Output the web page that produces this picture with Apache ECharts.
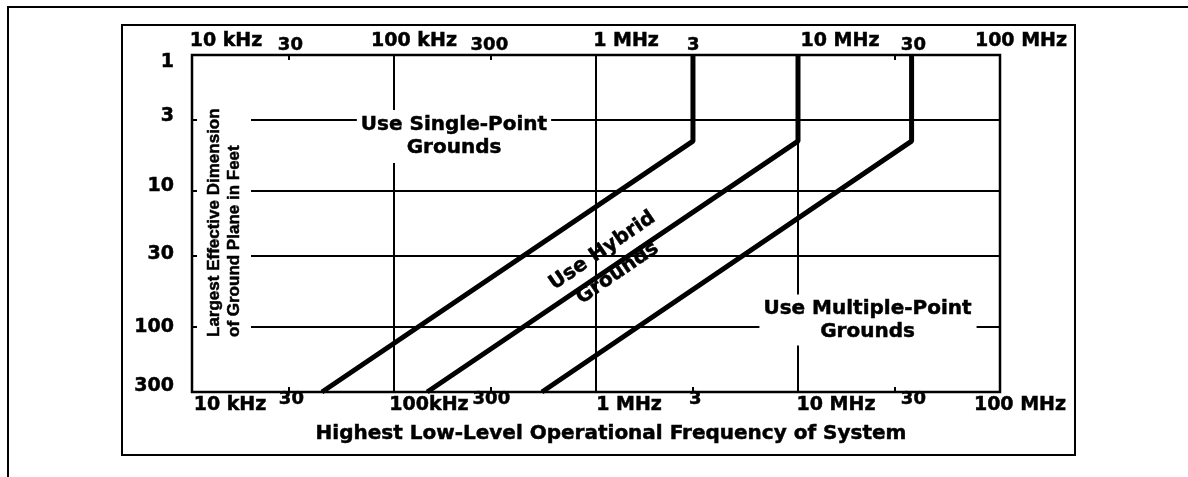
<!DOCTYPE html>
<html>
<head>
<meta charset="utf-8">
<script src="https://cdn.jsdelivr.net/npm/echarts@6.0.0/dist/echarts.min.js"></script>
<style>
  html, body { margin: 0; padding: 0; background: #fff; }
  #chart { width: 1188px; height: 477px; }
</style>
</head>
<body>
<div id="chart"></div>
<script>
// frequency axis (Hz)
const majorFreq = [1e4, 1e5, 1e6, 1e7, 1e8];
const majorTopLabels = ['10 kHz', '100 kHz', '1 MHz', '10 MHz', '100 MHz'];
const majorBottomLabels = ['10 kHz', '100kHz', '1 MHz', '10 MHz', '100 MHz'];
const minorFreq = [3e4, 3e5, 3e6, 3e7];
const minorLabels = ['30', '300', '3', '30'];

// dimension axis (feet)
const dimTicks = [1, 3, 10, 30, 100, 300];
const dimLabels = ['1', '3', '10', '30', '100', '300'];

// boundary lines [frequency, feet]
const singlePointLimit = [[3.02e6, 1], [3.02e6, 4.3], [4.4e4, 300]];
const hybridLimit = [[1e7, 1], [1e7, 4.3], [1.46e5, 300]];
const multiPointLimit = [[3.65e7, 1], [3.65e7, 4.3], [5.4e5, 300]];

// label nudges in px (centre of text relative to its tick) - styling only
const topShift = [34, 20, 30, 42, 21];
const bottomShift = [38, 35, 33, 38, 20];
const minorTopShift = [2, -1, 1, 19];
const minorBottomShift = [3, 1, 3, 19];
const dimShift = [7, -4, -5, -2, 0, -6];

const FONT = '"DejaVu Sans", sans-serif';
const HEAVY = 0.5; // extra stroke so the bold type reads heavier

function nearestIndex(vals, v) {
  let best = 0;
  const lv = Math.log10(v);
  vals.forEach((x, i) => {
    if (Math.abs(Math.log10(x) - lv) < Math.abs(Math.log10(vals[best]) - lv)) best = i;
  });
  return best;
}

// x labels: shift sideways with rich padding
function freqLabel(vals, texts, shifts, size, margin) {
  const rich = {};
  texts.forEach((t, i) => {
    const p = 2 * (shifts[i] || 0);
    rich['t' + i] = {
      fontFamily: FONT, fontWeight: 'bold', fontSize: size, color: '#000',
      textBorderColor: '#000', textBorderWidth: HEAVY,
      padding: p >= 0 ? [0, 0, 0, p] : [0, -p, 0, 0]
    };
  });
  return {
    show: true,
    customValues: vals,
    margin: margin,
    align: 'center',
    verticalAlign: 'middle',
    showMinLabel: true,
    showMaxLabel: true,
    formatter: (v) => {
      const i = nearestIndex(vals, v);
      return '{t' + i + '|' + texts[i] + '}';
    },
    rich: rich
  };
}

// y labels: shift up / down with rich padding
function dimLabel(vals, texts, shifts, size, margin) {
  const rich = {};
  texts.forEach((t, i) => {
    const p = 2 * (shifts[i] || 0);
    rich['t' + i] = {
      fontFamily: FONT, fontWeight: 'bold', fontSize: size, color: '#000',
      textBorderColor: '#000', textBorderWidth: HEAVY,
      padding: p >= 0 ? [p, 0, 0, 0] : [0, 0, -p, 0]
    };
  });
  return {
    show: true,
    customValues: vals,
    margin: margin,
    align: 'right',
    verticalAlign: 'middle',
    showMinLabel: true,
    showMaxLabel: true,
    formatter: (v) => {
      const i = nearestIndex(vals, v);
      return '{t' + i + '|' + texts[i] + '}';
    },
    rich: rich
  };
}

const baseX = {
  type: 'log',
  logBase: 10,
  min: 1e4,
  max: 1e8,
  axisLine: { show: false },
  axisTick: { show: false },
  splitLine: { show: false },
  minorTick: { show: false },
  minorSplitLine: { show: false }
};

const minorTick = (vals) => ({
  show: true, inside: true, length: 5, customValues: vals,
  lineStyle: { color: '#000', width: 2 }
});

function note(x, y, text, extra) {
  return {
    type: 'text', z: 50, x: x, y: y, rotation: extra.rotation || 0,
    style: Object.assign({
      text: text,
      font: 'bold 20px ' + FONT,
      fill: '#000', stroke: '#000', lineWidth: HEAVY,
      align: 'center', textAlign: 'center',
      verticalAlign: 'middle', textVerticalAlign: 'middle'
    }, extra.style || {})
  };
}

const chart = echarts.init(document.getElementById('chart'));

chart.setOption({
  animation: false,
  backgroundColor: '#fff',
  grid: {
    left: 192, top: 55, right: 188, bottom: 85,
    show: true, borderColor: '#000', borderWidth: 2.5, backgroundColor: 'transparent'
  },
  xAxis: [
    Object.assign({}, baseX, {
      position: 'bottom',
      axisTick: { show: false, customValues: majorFreq },
      splitLine: { show: true, lineStyle: { color: '#000', width: 2 } },
      axisLabel: freqLabel(majorFreq, majorBottomLabels, bottomShift, 19, 13)
    }),
    Object.assign({}, baseX, {
      position: 'top',
      axisTick: { show: false, customValues: majorFreq },
      axisLabel: freqLabel(majorFreq, majorTopLabels, topShift, 19, 13.5)
    }),
    Object.assign({}, baseX, {
      position: 'bottom',
      axisTick: minorTick(minorFreq),
      axisLabel: freqLabel(minorFreq, minorLabels, minorBottomShift, 18, 7)
    }),
    Object.assign({}, baseX, {
      position: 'top',
      axisTick: minorTick(minorFreq),
      axisLabel: freqLabel(minorFreq, minorLabels, minorTopShift, 18, 9.5)
    })
  ],
  yAxis: {
    type: 'log',
    logBase: 10,
    min: 1,
    max: 300,
    inverse: true,
    axisLine: { show: false },
    axisTick: { show: false, customValues: dimTicks },
    splitLine: { show: true, lineStyle: { color: '#000', width: 2 } },
    minorTick: { show: false },
    axisLabel: dimLabel(dimTicks, dimLabels, dimShift, 19, 18)
  },
  series: [singlePointLimit, hybridLimit, multiPointLimit].map((d) => ({
    type: 'line',
    data: d,
    xAxisIndex: 0,
    yAxisIndex: 0,
    symbol: 'none',
    silent: true,
    z: 5,
    lineStyle: { color: '#000', width: 5 }
  })),
  graphic: [
    {
      type: 'polyline', z: 1,
      shape: { points: [[8, 477], [8, 7], [1188, 7]] },
      style: { stroke: '#000', lineWidth: 2, fill: null }
    },
    {
      type: 'rect', z: 1,
      shape: { x: 122, y: 25, width: 953, height: 430 },
      style: { stroke: '#000', lineWidth: 2, fill: null }
    },
    note(224, 345, 'Largest Effective Dimension\nof Ground Plane in Feet', {
      rotation: Math.PI / 2,
      style: {
        font: 'bold 17px "Liberation Sans", Arial, sans-serif',
        align: 'left', textAlign: 'left',
        lineHeight: 20, backgroundColor: '#fff', padding: [12, 8, 2, 8]
      }
    }),
    note(454, 136.5, 'Use Single-Point\nGrounds', {
      style: { lineHeight: 23, backgroundColor: '#fff', padding: [0, 4, 7, 4] }
    }),
    note(610, 262, 'Use Hybrid\nGrounds', {
      rotation: 0.6,
      style: { lineHeight: 27 }
    }),
    note(868, 320, 'Use Multiple-Point\nGrounds', {
      style: { lineHeight: 23, backgroundColor: '#fff', padding: [0, 5, 5, 4] }
    }),
    note(611, 434, 'Highest Low-Level Operational Frequency of System', {})
  ]
});
</script>
</body>
</html>
